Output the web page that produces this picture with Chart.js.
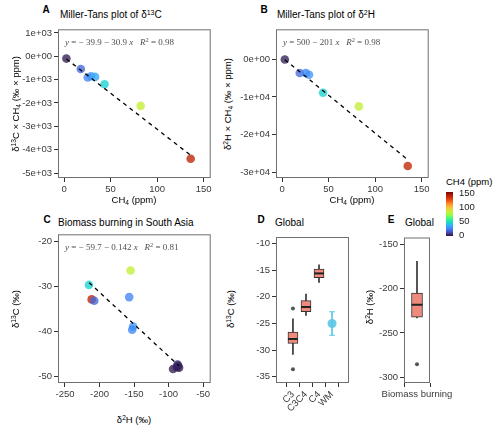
<!DOCTYPE html>
<html>
<head>
<meta charset="utf-8">
<script src="https://cdn.jsdelivr.net/npm/chart.js@4.4.1/dist/chart.umd.min.js"></script>
<style>
body { margin: 0; width: 500px; height: 430px; position: relative; background: #fff; overflow: hidden;
       font-family: 'Liberation Sans', Arial, sans-serif; }
canvas { position: absolute; }
.t { position: absolute; white-space: nowrap; color: #000; font-size: 10px; line-height: 1; }
.c { transform: translate(-50%, -50%); }
.l { transform: translateY(-50%); }
.r { transform: translate(-50%, -50%) rotate(-90deg); }
.b { font-weight: bold; }
.ax { font-size: 9.5px; }
.eq { font-family: 'Liberation Serif', serif; font-size: 9px; color: #4d4d4d; }
.sup { font-size: 70%; position: relative; top: -0.5em; }
.sub { font-size: 70%; position: relative; top: 0.35em; }
</style>
</head>
<body>
<canvas id="chartA" width="215" height="173" style="left:0;top:25px"></canvas>
<canvas id="chartB" width="197" height="173" style="left:236px;top:25px"></canvas>
<canvas id="chartC" width="215" height="173" style="left:0;top:230px"></canvas>
<canvas id="chartD" width="106" height="188" style="left:250px;top:230px"></canvas>
<canvas id="chartE" width="110" height="173" style="left:360px;top:230px"></canvas>

<div class="t b c" style="left:46px;top:10px">A</div>
<div class="t l" style="left:60px;top:15px">Miller-Tans plot of δ<span class="sup">13</span>C</div>
<div class="t b c" style="left:264px;top:10px">B</div>
<div class="t l" style="left:277px;top:15px">Miller-Tans plot of δ<span class="sup">2</span>H</div>
<div class="t b c" style="left:47px;top:220px">C</div>
<div class="t l" style="left:58px;top:223px">Biomass burning in South Asia</div>
<div class="t b c" style="left:261px;top:220px">D</div>
<div class="t l" style="left:275px;top:223px">Global</div>
<div class="t b c" style="left:391px;top:220px">E</div>
<div class="t l" style="left:405px;top:223px">Global</div>

<div class="t eq l" style="left:65px;top:42px"><i>y</i> = − 39.9 − 30.9 <i>x</i> &nbsp; <i>R</i><span class="sup">2</span> = 0.98</div>
<div class="t eq l" style="left:283px;top:42px"><i>y</i> = 500 − 201 <i>x</i> &nbsp; <i>R</i><span class="sup">2</span> = 0.98</div>
<div class="t eq l" style="left:65px;top:247px"><i>y</i> = − 59.7 − 0.142 <i>x</i> &nbsp; <i>R</i><span class="sup">2</span> = 0.81</div>

<div class="t ax r" style="left:16px;top:104px">δ<span class="sup">13</span>C × CH<span class="sub">4</span> (‰ × ppm)</div>
<div class="t ax c" style="left:134px;top:200px">CH<span class="sub">4</span> (ppm)</div>
<div class="t ax r" style="left:228px;top:104px">δ<span class="sup">2</span>H × CH<span class="sub">4</span> (‰ × ppm)</div>
<div class="t ax c" style="left:352px;top:200px">CH<span class="sub">4</span> (ppm)</div>
<div class="t ax r" style="left:16px;top:309px">δ<span class="sup">13</span>C (‰)</div>
<div class="t ax c" style="left:134px;top:420px">δ<span class="sup">2</span>H (‰)</div>
<div class="t ax r" style="left:231px;top:309px">δ<span class="sup">13</span>C (‰)</div>
<div class="t ax r" style="left:370px;top:307px">δ<span class="sup">2</span>H (‰)</div>

<div class="t ax l" style="left:446px;top:182px">CH4 (ppm)</div>
<div id="bar" style="position:absolute;left:446px;top:192px;width:7px;height:44px"></div>
<div id="barLabels"></div>

<script>
// Panel A / B: Miller-Tans plots
const ch4A = [2.5, 18, 25.4, 29, 33.3, 43.5, 82.3, 136];
const millerC = [-100, -545, -910, -855, -885, -1200, -2125, -4390];
const ch4B = [3, 19, 25.5, 29, 44, 82.5, 135];
const millerH = [-50, -3650, -3650, -4100, -8900, -12500, -28300];
const fitAx = [2.5, 135];
const fitAy = [-117, -4211];
const fitBx = [3, 135];
const fitBy = [-103, -26635];

// Panel C: biomass burning in South Asia
const d2H = [-155, -215.3, -211.4, -207.6, -157, -151.3, -152.7, -93.5, -88, -86.3, -84.8, -87];
const d13C = [-26.5, -29.7, -32.9, -33.2, -32.4, -38.9, -39.6, -48.3, -47.9, -47.6, -48.0, -47.3];
const ch4C = [82, 43.5, 136, 18, 25, 29, 26, 2.5, 3, 3.5, 2, 4];
const fitCx = [-215, -85];
const fitCy = [-29.2, -47.6];

// Panel D: global d13C boxplots
const catsD = ['C3', 'C3C4', 'C4', 'WM'];
const lowD = [-30.8, -23.5, -17.3];
const q1D = [-28.75, -22.8, -16.4];
const medD = [-27.9, -21.9, -15.6];
const q3D = [-26.6, -20.7, -14.8];
const highD = [-24.1, -19.5, -14.0];
const outX_D = [1, 1];
const outY_D = [-22.2, -33.6];
const wmMean = [-25.0];
const wmLow = [-27.2];
const wmHigh = [-22.8];

// Panel E: global d2H biomass burning
const catsE = ['Biomass burning'];
const lowE = [-233];
const q1E = [-232.3];
const medE = [-218.4];
const q3E = [-205.2];
const highE = [-169.4];
const outY_E = [-285.3];

// tick values and labels
const xTicksAB = [0, 50, 100, 150];
const yTicksA = [1000, 0, -1000, -2000, -3000, -4000, -5000];
const yLabelsA = ['1e+03', '0e+00', '-1e+03', '-2e+03', '-3e+03', '-4e+03', '-5e+03'];
const yTicksB = [0, -10000, -20000, -30000];
const yLabelsB = ['0e+00', '-1e+04', '-2e+04', '-3e+04'];
const xTicksC = [-250, -200, -150, -100, -50];
const yTicksC = [-20, -30, -40, -50];
const yTicksD = [-10, -15, -20, -25, -30, -35];
const yTicksE = [-150, -200, -250, -300];
const legendTicks = [150, 100, 50, 0];

const turbo = ['#30123b', '#4145ab', '#4675ed', '#39a2fc', '#1bcfd4', '#24eca6', '#61fc6c', '#a4fc3b',
               '#d1e834', '#f3c63a', '#fe9b2d', '#f36315', '#d93806', '#b11901', '#7a0403'];
const boxFill = '#ee8b7c';

function hex(h) { return [1, 3, 5].map(i => parseInt(h.slice(i, i + 2), 16)); }
function colorFor(v, alpha) {
  const t = Math.min(Math.max(v / 150, 0), 1) * (turbo.length - 1);
  const i = Math.min(Math.floor(t), turbo.length - 2), f = t - i;
  const a = hex(turbo[i]), b = hex(turbo[i + 1]);
  const c = a.map((x, k) => Math.round(x + (b[k] - x) * f));
  return `rgba(${c[0]},${c[1]},${c[2]},${alpha})`;
}

Chart.defaults.font.family = "'Liberation Sans', Arial, sans-serif";
Chart.defaults.animation = false;

const frame = {
  id: 'frame',
  beforeDatasetsDraw(chart) {
    const a = chart.chartArea, ctx = chart.ctx;
    ctx.save();
    ctx.strokeStyle = '#707070';
    ctx.lineWidth = 1;
    ctx.strokeRect(a.left + 0.5, a.top + 0.5, a.width - 1, a.height - 1);
    ctx.restore();
  }
};

function axis(min, max, ticks, labels, size, rot) {
  return {
    type: 'linear', min, max,
    afterBuildTicks: s => { s.ticks = ticks.map(v => ({ value: v })); },
    afterFit: s => {
      if (s.isHorizontal()) { s.height = size; s.paddingLeft = 0; s.paddingRight = 0; }
      else { s.width = size; s.paddingTop = 0; s.paddingBottom = 0; }
    },
    ticks: {
      autoSkip: false, minRotation: rot || 0, maxRotation: rot || 0, padding: 2,
      color: '#3a3a3a', font: { size: 9.5 },
      callback: (v, i) => labels[i]
    },
    grid: { drawOnChartArea: false, tickLength: 4, tickColor: '#333' },
    border: { display: false }
  };
}

function points(xs, ys, ch4) {
  return {
    data: xs.map((x, i) => ({ x, y: ys[i] })),
    backgroundColor: ch4.map(v => colorFor(v, 0.78)),
    pointRadius: 4.3, pointHoverRadius: 4.3, borderWidth: 0, order: 2
  };
}

function fit(xs, ys) {
  return {
    data: xs.map((x, i) => ({ x, y: ys[i] })),
    showLine: true, borderColor: '#000', borderWidth: 1.3, borderDash: [4, 4],
    pointRadius: 0, order: 0
  };
}

function boxSets(lo, q1, med, q3, hi, w) {
  const xs = q1.map((_, i) => i + 1);
  return [
    { type: 'bar', data: xs.map((x, i) => ({ x, y: [lo[i], hi[i]] })), barThickness: 1,
      backgroundColor: '#333', grouped: false, order: 4 },
    { type: 'bar', data: xs.map((x, i) => ({ x, y: [q1[i], q3[i]] })), barThickness: w,
      backgroundColor: boxFill, borderColor: '#333', borderWidth: 1, borderSkipped: false,
      grouped: false, order: 3 },
    { type: 'scatter', data: xs.map((x, i) => ({ x, y: med[i] })), pointStyle: 'line',
      pointRadius: w / 2, borderColor: '#222', borderWidth: 2, order: 1 }
  ];
}

function make(id, datasets, scales, padding) {
  new Chart(document.getElementById(id), {
    type: 'scatter',
    data: { datasets },
    options: {
      responsive: false,
      layout: { padding },
      plugins: { legend: { display: false }, tooltip: { enabled: false } },
      scales
    },
    plugins: [frame]
  });
}

make('chartA', [points(ch4A, millerC, ch4A), fit(fitAx, fitAy)], {
  x: axis(-6.5, 157.5, xTicksAB, xTicksAB.map(String), 20),
  y: axis(-5214, 1154, yTicksA, yLabelsA, 58)
}, { top: 4, right: 4, left: 0, bottom: 0 });

make('chartB', [points(ch4B, millerH, ch4B), fit(fitBx, fitBy)], {
  x: axis(-6.5, 157.5, xTicksAB, xTicksAB.map(String), 20),
  y: axis(-31481, 7937, yTicksB, yLabelsB, 40)
}, { top: 4, right: 4, left: 0, bottom: 0 });

make('chartC', [points(d2H, d13C, ch4C), fit(fitCx, fitCy)], {
  x: axis(-260.1, -39, xTicksC, xTicksC.map(String), 20),
  y: axis(-51.4, -18.5, yTicksC, yTicksC.map(String), 58)
}, { top: 4, right: 4, left: 0, bottom: 0 });

make('chartD', [
  ...boxSets(lowD, q1D, medD, q3D, highD, 10),
  { data: outX_D.map((x, i) => ({ x, y: outY_D[i] })), backgroundColor: '#555', pointRadius: 2, borderWidth: 0, order: 1 },
  { type: 'bar', data: [{ x: 4, y: [wmLow[0], wmHigh[0]] }], barThickness: 1, backgroundColor: '#5cc6e6', grouped: false, order: 4 },
  { data: [{ x: 4, y: wmLow[0] }, { x: 4, y: wmHigh[0] }], pointStyle: 'line', pointRadius: 3,
    borderColor: '#5cc6e6', borderWidth: 1, order: 1 },
  { data: [{ x: 4, y: wmMean[0] }], backgroundColor: 'rgba(92,198,230,0.9)', pointRadius: 4.5, borderWidth: 0, order: 1 }
], {
  x: axis(0.4, 4.6, [1, 2, 3, 4], catsD, 35, 45),
  y: axis(-36.16, -8.77, yTicksD, yTicksD.map(String), 26)
}, { top: 4, right: 4, left: 0, bottom: 0 });

make('chartE', [
  ...boxSets(lowE, q1E, medE, q3E, highE, 11),
  { data: [{ x: 1, y: outY_E[0] }], backgroundColor: '#555', pointRadius: 2, borderWidth: 0, order: 1 }
], {
  x: axis(0.4, 1.6, [1], catsE, 20),
  y: axis(-306.3, -142.6, yTicksE, yTicksE.map(String), 44)
}, { top: 4, right: 40, left: 0, bottom: 0 });

// colour bar legend
const stops = turbo.map((c, i) => `${c} ${(i / (turbo.length - 1) * 100).toFixed(1)}%`).join(',');
document.getElementById('bar').style.background = `linear-gradient(to top, ${stops})`;
const lab = document.getElementById('barLabels');
legendTicks.forEach(v => {
  const d = document.createElement('div');
  d.className = 't l';
  d.style.cssText = `left:459px;top:${234.7 - v * 0.28}px;font-size:9.5px;color:#222`;
  d.textContent = v;
  lab.appendChild(d);
});
</script>
</body>
</html>
